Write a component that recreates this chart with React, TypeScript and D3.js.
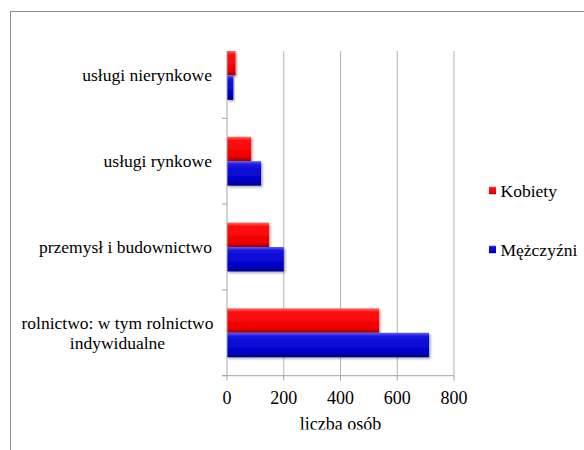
import React, { useEffect, useRef } from "react";
import * as d3 from "d3";

const categories = [
  "usługi nierynkowe",
  "usługi rynkowe",
  "przemysł i budownictwo",
  "rolnictwo: w tym rolnictwo|indywidualne",
];
const seriesNames = ["Kobiety", "Mężczyźni"];
const kobiety = [30, 85, 148, 536];
const mezczyzni = [22, 120, 200, 712];
const xTicks = [0, 200, 400, 600, 800];

const W = 584;
const H = 450;
const FONT = '"Liberation Serif"';

export default function App() {
  const ref = useRef<SVGSVGElement>(null);
  useEffect(() => {
    if (ref.current) {
      d3.select(ref.current).selectAll("text, tspan").style("font-family", FONT, "important");
    }
  }, []);

  const x = d3.scaleLinear().domain([0, 800]).range([227, 454]);
  const y = d3
    .scaleBand<string>()
    .domain(categories)
    .range([32.5, 375.7])
    .paddingInner(0.43)
    .paddingOuter(0.215);
  const step = y.step();
  const inner = d3
    .scaleBand<string>()
    .domain(seriesNames)
    .range([0, y.bandwidth()]);
  const series = [kobiety, mezczyzni];
  const gradIds = ["gRed", "gBlue"];
  const plotTop = 51;
  const plotBottom = 375.7;
  const boundaries = categories.map((_, i) => 32.5 + step * (i + 1));
  const ts = { fontFamily: FONT };

  return (
    <svg
      ref={ref}
      width={W}
      height={H}
      style={{ position: "absolute", left: 0, top: 0, display: "block", background: "#fff", fontFamily: FONT }}
    >
      <defs>
        <linearGradient id="gRed" x1="0" y1="0" x2="0" y2="1">
          <stop offset="0" stopColor="#ff6a6a" />
          <stop offset="0.15" stopColor="#ff1010" />
          <stop offset="0.8" stopColor="#f00000" />
          <stop offset="1" stopColor="#a00000" />
        </linearGradient>
        <linearGradient id="gBlue" x1="0" y1="0" x2="0" y2="1">
          <stop offset="0" stopColor="#5a5aff" />
          <stop offset="0.15" stopColor="#1515e0" />
          <stop offset="0.8" stopColor="#0000c8" />
          <stop offset="1" stopColor="#000080" />
        </linearGradient>
        <filter id="shadow" x="-10%" y="-10%" width="130%" height="140%">
          <feDropShadow dx="1.5" dy="1.5" stdDeviation="1" floodColor="#000" floodOpacity="0.35" />
        </filter>
        <clipPath id="clipTitle">
          <rect x={0} y={0} width={W} height={429.5} />
        </clipPath>
      </defs>
      <rect x={10.5} y={11.5} width={700} height={600} fill="none" stroke="#8c8c8c" strokeWidth={1} />

      {xTicks.slice(1).map((t) => (
        <line key={"g" + t} x1={x(t)} x2={x(t)} y1={plotTop} y2={plotBottom} stroke="#b3b3b3" strokeWidth={1} />
      ))}

      {categories.map((c, ci) => (
        <g key={c}>
          {series.map((vals, si) => (
            <rect
              key={si}
              x={x(0)}
              y={(y(c) as number) + (inner(seriesNames[si]) as number)}
              width={x(vals[ci]) - x(0)}
              height={inner.bandwidth()}
              fill={`url(#${gradIds[si]})`}
              filter="url(#shadow)"
            />
          ))}
        </g>
      ))}

      <line x1={x(0)} x2={x(0)} y1={plotTop} y2={plotBottom} stroke="#a6a6a6" />
      {boundaries.map((b, i) => (
        <line key={"yt" + i} x1={x(0) - 5} x2={x(0)} y1={b} y2={b} stroke="#a6a6a6" />
      ))}
      <line x1={x(0) - 5} x2={x(800)} y1={plotBottom} y2={plotBottom} stroke="#a6a6a6" />
      {xTicks.map((t) => (
        <line key={"xt" + t} x1={x(t)} x2={x(t)} y1={plotBottom} y2={plotBottom + 5} stroke="#a6a6a6" />
      ))}
      {xTicks.map((t) => (
        <text key={"xl" + t} x={x(t)} y={404} textAnchor="middle" style={ts} fontSize={18} fill="#000">
          {t}
        </text>
      ))}
      <text x={x(400)} y={430} textAnchor="middle" style={ts} fontSize={18} fill="#000" clipPath="url(#clipTitle)">
        liczba osób
      </text>

      {categories.map((c) => {
        const lines = c.split("|");
        const cy = (y(c) as number) + y.bandwidth() / 2 + 6;
        const lh = 20.6;
        if (lines.length === 1) {
          return (
            <text key={c} x={212} y={cy} textAnchor="end" style={ts} fontSize={17.5} fill="#000">
              {c}
            </text>
          );
        }
        return (
          <text key={c} x={117.5} textAnchor="middle" style={ts} fontSize={17.5} fill="#000">
            {lines.map((l, li) => (
              <tspan key={li} x={117.5} y={cy + (li - (lines.length - 1) / 2) * lh}>
                {l}
              </tspan>
            ))}
          </text>
        );
      })}

      {seriesNames.map((s, i) => {
        const ly = [190.5, 249.5][i];
        return (
          <g key={s}>
            <rect x={489} y={ly - 3.8} width={7} height={7.5} fill={`url(#${gradIds[i]})`} />
            <text x={500.5} y={ly + 6} style={ts} fontSize={17.5} fill="#000">
              {s}
            </text>
          </g>
        );
      })}
    </svg>
  );
}
